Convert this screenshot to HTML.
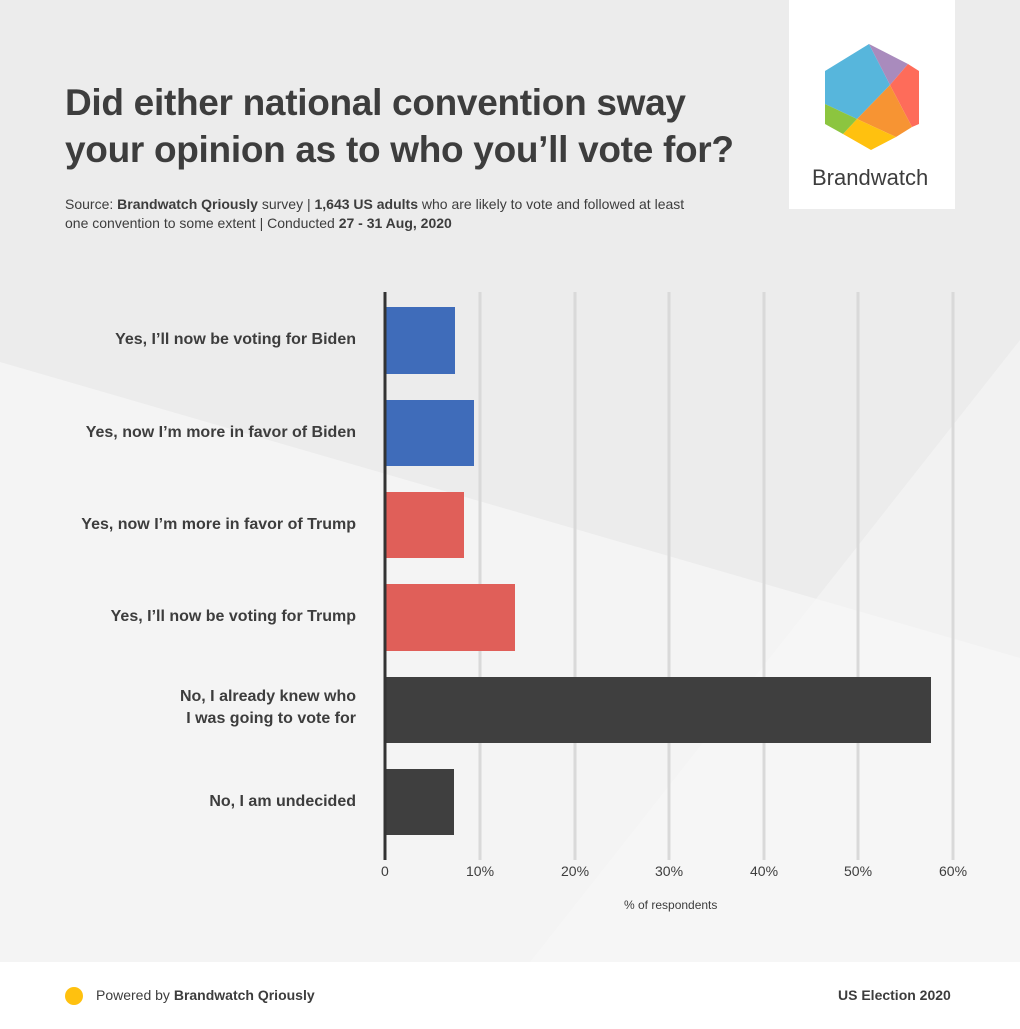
<!DOCTYPE html>
<html><head><style>
body{margin:0;width:1020px;height:1029px;position:relative;overflow:hidden;font-family:"Liberation Sans",sans-serif;color:#3d3d3d}
.t{position:absolute}
</style></head><body>
<svg class="t" style="left:0;top:0" width="1020" height="1029">
<rect width="1020" height="1029" fill="#f4f4f4"/>
<polygon points="0,0 1020,0 1020,658 0,362" fill="#ececec"/>
<polygon points="530,962 1020,340 1020,962" fill="#f6f6f6" opacity="0.6"/>
<rect x="0" y="962" width="1020" height="67" fill="#fff"/>
<rect x="789" y="0" width="166" height="209" fill="#fff"/>
<g>
<polygon points="869,44 890,85 857,119 825,104 825,71" fill="#57b6dc"/>
<polygon points="869,44 908,64 890,85" fill="#a98bbd"/>
<polygon points="890,85 908,64 919,71 919,124 912,127" fill="#fe6c5a"/>
<polygon points="857,119 890,85 912,127 896,137" fill="#f79433"/>
<polygon points="857,119 896,137 871,150 843,134" fill="#ffc10f"/>
<polygon points="825,104 857,119 843,134 825,124" fill="#8cc53f"/>
</g>
<g stroke="#d9d9d9" stroke-width="3">
<line x1="480" y1="292" x2="480" y2="860"/><line x1="575" y1="292" x2="575" y2="860"/><line x1="669" y1="292" x2="669" y2="860"/><line x1="764" y1="292" x2="764" y2="860"/><line x1="858" y1="292" x2="858" y2="860"/><line x1="953" y1="292" x2="953" y2="860"/>
</g>
<rect x="386" y="307" width="69" height="67" fill="#3f6cba"/>
<rect x="386" y="400" width="88" height="66" fill="#3f6cba"/>
<rect x="386" y="492" width="78" height="66" fill="#e05f59"/>
<rect x="386" y="584" width="129" height="67" fill="#e05f59"/>
<rect x="386" y="677" width="545" height="66" fill="#3f3f3f"/>
<rect x="386" y="769" width="68" height="66" fill="#3f3f3f"/>
<line x1="385" y1="292" x2="385" y2="860" stroke="#333" stroke-width="3"/>
<circle cx="74" cy="996" r="9" fill="#ffc10f"/>
</svg>
<div class="t" style="left:65px;top:79px;font-size:37px;letter-spacing:-0.3px;font-weight:bold;line-height:47px;width:700px">Did either national convention sway<br>your opinion as to who you’ll vote for?</div>
<div class="t" style="left:65px;top:195px;font-size:14px;line-height:19px;width:660px">Source: <b>Brandwatch Qriously</b> survey | <b>1,643 US adults</b> who are likely to vote and followed at least<br>one convention to some extent | Conducted <b>27 - 31 Aug, 2020</b></div>
<div class="t" style="left:812px;top:165px;font-size:22px">Brandwatch</div>
<div class="t" style="left:0;width:356px;text-align:right;font-size:16px;font-weight:bold;line-height:22px">
<div class="t" style="right:0;top:329px;white-space:nowrap">Yes, I’ll now be voting for Biden</div>
<div class="t" style="right:0;top:422px;white-space:nowrap">Yes, now I’m more in favor of Biden</div>
<div class="t" style="right:0;top:514px;white-space:nowrap">Yes, now I’m more in favor of Trump</div>
<div class="t" style="right:0;top:606px;white-space:nowrap">Yes, I’ll now be voting for Trump</div>
<div class="t" style="right:0;top:686px;white-space:nowrap">No, I already knew who<br>I was going to vote for</div>
<div class="t" style="right:0;top:791px;white-space:nowrap">No, I am undecided</div>
</div>
<div class="t" style="top:863px;font-size:14px;left:0;width:1020px">
<span class="t" style="left:381px">0</span><span class="t" style="left:466px">10%</span><span class="t" style="left:561px">20%</span><span class="t" style="left:655px">30%</span><span class="t" style="left:750px">40%</span><span class="t" style="left:844px">50%</span><span class="t" style="left:939px">60%</span>
</div>
<div class="t" style="left:624px;top:898px;font-size:12px">% of respondents</div>
<div class="t" style="left:96px;top:987px;font-size:14px">Powered by <b>Brandwatch Qriously</b></div>
<div class="t" style="left:838px;top:987px;font-size:14px;font-weight:bold">US Election 2020</div>
</body></html>
